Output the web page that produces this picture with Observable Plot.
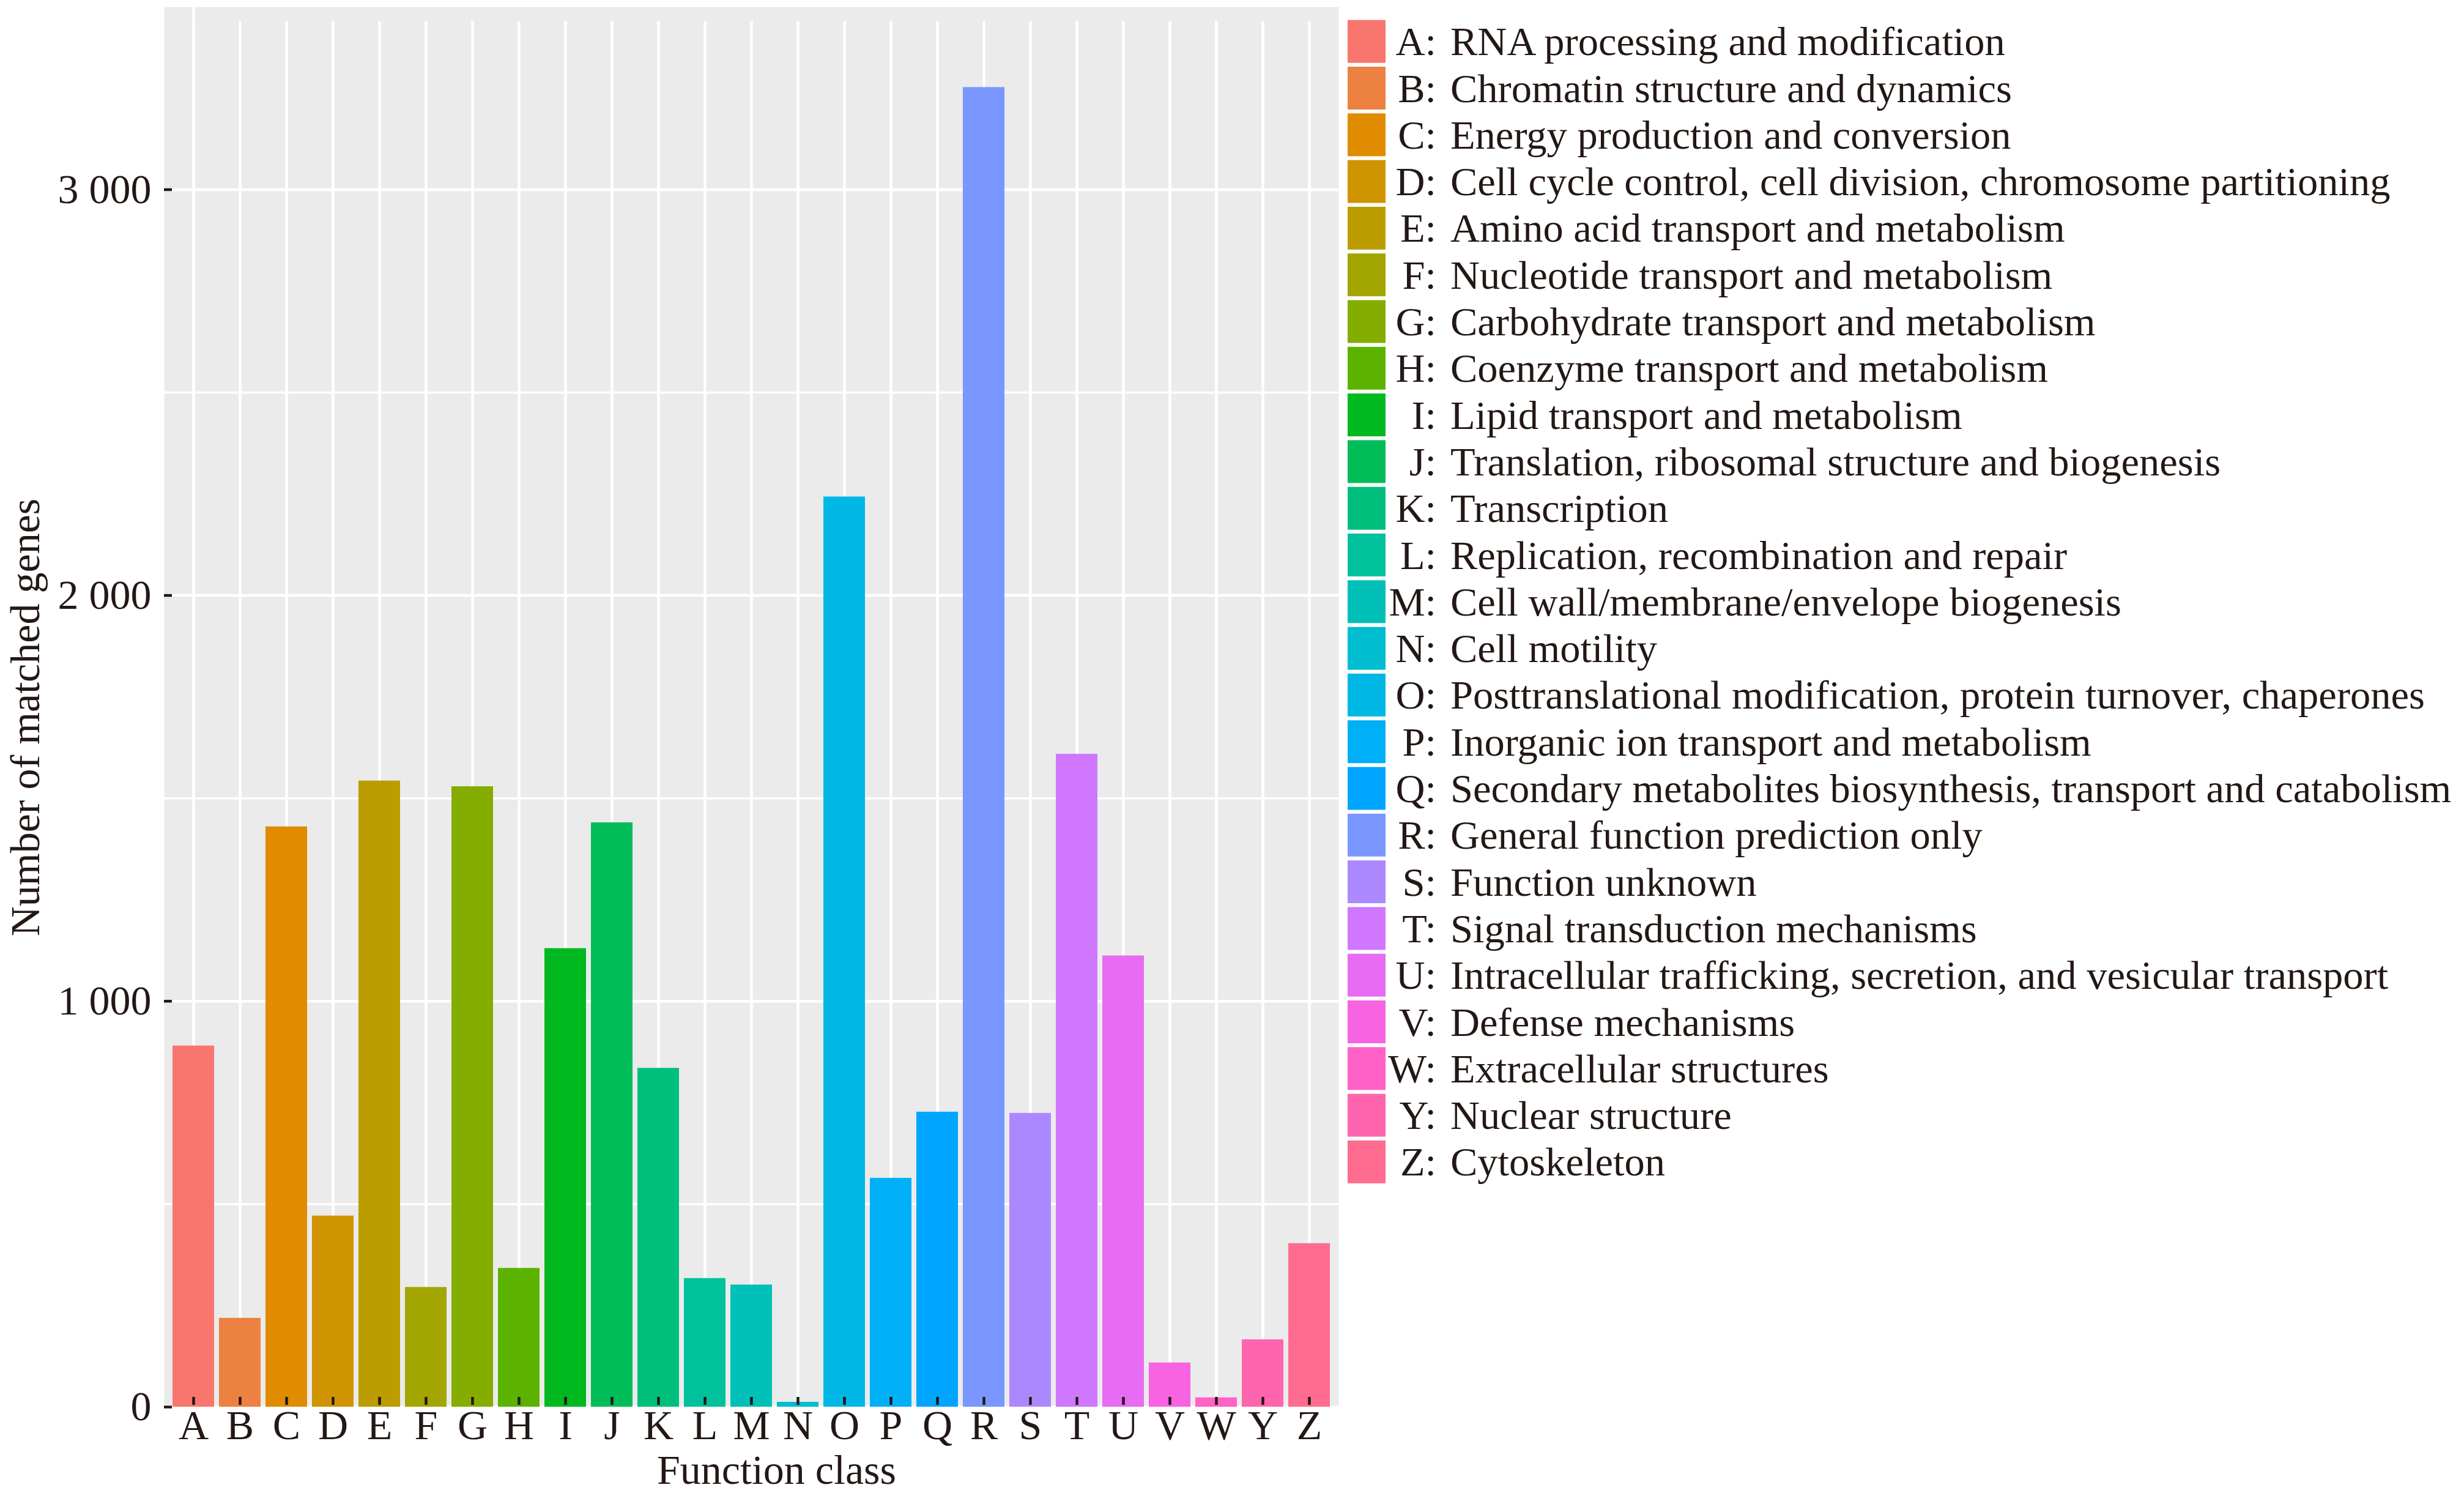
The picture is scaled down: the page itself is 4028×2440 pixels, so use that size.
<!DOCTYPE html>
<html>
<head>
<meta charset="utf-8">
<script src="https://cdn.jsdelivr.net/npm/d3@7"></script>
<script src="https://cdn.jsdelivr.net/npm/@observablehq/plot@0.6"></script>
<style>
  html, body { margin: 0; padding: 0; background: #ffffff; }
  #chart { width: 4028px; height: 2440px; overflow: hidden; }
</style>
</head>
<body>
<div id="chart"></div>
<script>
// ---- data ----
const classes = ["A","B","C","D","E","F","G","H","I","J","K","L","M","N","O","P","Q","R","S","T","U","V","W","Y","Z"];
const counts  = [890, 219, 1430, 471, 1543, 295, 1529, 342, 1130, 1440, 835, 317, 301, 12, 2243, 564, 727, 3252, 724, 1609, 1112, 109, 23, 166, 403];
const descriptions = [
  "RNA processing and modification",
  "Chromatin structure and dynamics",
  "Energy production and conversion",
  "Cell cycle control, cell division, chromosome partitioning",
  "Amino acid transport and metabolism",
  "Nucleotide transport and metabolism",
  "Carbohydrate transport and metabolism",
  "Coenzyme transport and metabolism",
  "Lipid transport and metabolism",
  "Translation, ribosomal structure and biogenesis",
  "Transcription",
  "Replication, recombination and repair",
  "Cell wall/membrane/envelope biogenesis",
  "Cell motility",
  "Posttranslational modification, protein turnover, chaperones",
  "Inorganic ion transport and metabolism",
  "Secondary metabolites biosynthesis, transport and catabolism",
  "General function prediction only",
  "Function unknown",
  "Signal transduction mechanisms",
  "Intracellular trafficking, secretion, and vesicular transport",
  "Defense mechanisms",
  "Extracellular structures",
  "Nuclear structure",
  "Cytoskeleton"
];
const yMajorTicks = [0, 1000, 2000, 3000];
const yMinorTicks = [500, 1500, 2500];
const xTitle = "Function class";
const yTitle = "Number of matched genes";

// ggplot2 default hue palette (grDevices::hcl, polar LUV), l = 65, c = 100
function hclLuv(h, c, l) {
  const WHITE_u = 0.1978398, WHITE_v = 0.4683363;
  const hr = h * Math.PI / 180;
  const U = c * Math.cos(hr), V = c * Math.sin(hr);
  const Y = (l > 7.999592) ? Math.pow((l + 16) / 116, 3) : l / 903.3;
  const u = U / (13 * l) + WHITE_u;
  const v = V / (13 * l) + WHITE_v;
  const X = 9.0 * Y * u / (4 * v);
  const Z = -X / 3 - 5 * Y + 3 * Y / v;
  const g = t => { t = t > 0.00304 ? 1.055 * Math.pow(t, 1 / 2.4) - 0.055 : 12.92 * t; return Math.round(255 * Math.max(0, Math.min(1, t))); };
  return d3.rgb(g(3.240479 * X - 1.537150 * Y - 0.498535 * Z),
                g(-0.969256 * X + 1.875992 * Y + 0.041556 * Z),
                g(0.055648 * X - 0.204043 * Y + 1.057311 * Z)).formatHex();
}
const n = classes.length;
const palette = classes.map((_, i) => hclLuv(15 + 360 * i / n, 100, 65));

const data = classes.map((c, i) => ({cls: c, count: counts[i]}));
const fmt = d => d3.format(",")(d).replace(/,/g, " ");

const ink = "#231815";
const font = "'Liberation Serif', 'Times New Roman', serif";

const chart = Plot.plot({
  width: 4028,
  height: 2440,
  marginLeft: 268,
  marginRight: 1840,
  marginTop: 11,
  marginBottom: 141,
  style: {fontFamily: font, fontSize: "68px", color: ink, background: "#ffffff", overflow: "visible"},
  x: {domain: classes, paddingInner: 0.1, paddingOuter: 0.15, label: null},
  y: {domain: [0, 3450], label: null},
  color: {domain: classes, range: palette},
  marks: [
    Plot.frame({fill: "#EBEBEB", stroke: null}),
    Plot.ruleY(yMinorTicks, {stroke: "#ffffff", strokeWidth: 3.5}),
    Plot.ruleY(yMajorTicks, {stroke: "#ffffff", strokeWidth: 4.5}),
    Plot.ruleX(classes, {y1: 0, y2: 3415, stroke: "#ffffff", strokeWidth: 4.5}),
    Plot.ruleX(classes.slice(0, 1), {stroke: "#ffffff", strokeWidth: 4.5}),
    Plot.barY(data, {x: "cls", y: "count", fill: "cls"}),
    Plot.axisY({ticks: yMajorTicks, tickFormat: fmt, tickSize: 13, dx: 13, tickPadding: 21, strokeWidth: 4.5, label: null}),
    Plot.axisX({tickSize: 13, dy: -16, tickPadding: 7, strokeWidth: 4.5, label: null}),
    Plot.text([xTitle], {frameAnchor: "bottom", lineAnchor: "bottom", textAnchor: "middle", dx: 41, dy: 125, fill: ink}),
    Plot.text([yTitle], {frameAnchor: "left", lineAnchor: "bottom", textAnchor: "middle", rotate: -90, dx: -205, dy: 17, fill: ink})
  ]
});

// ---- legend (uses Plot's colour scale) ----
const color = chart.scale("color");
const svg = d3.select(chart);
const lg = svg.append("g").attr("font-family", font).attr("font-size", 66.5).attr("fill", ink);
const keyX = 2203, keyW = 62, keyH = 70, keyTop = 32.7, pitch = 76.3;
classes.forEach((c, i) => {
  const top = keyTop + pitch * i;
  lg.append("rect").attr("x", keyX).attr("y", top).attr("width", keyW).attr("height", keyH).attr("fill", color.apply(c));
  lg.append("text").attr("x", 2348).attr("y", top + keyH / 2 + 22.5).attr("text-anchor", "end").text(c + ":");
  lg.append("text").attr("x", 2371).attr("y", top + keyH / 2 + 22.5).attr("text-anchor", "start").text(descriptions[i]);
});

document.getElementById("chart").appendChild(chart);
</script>
</body>
</html>
